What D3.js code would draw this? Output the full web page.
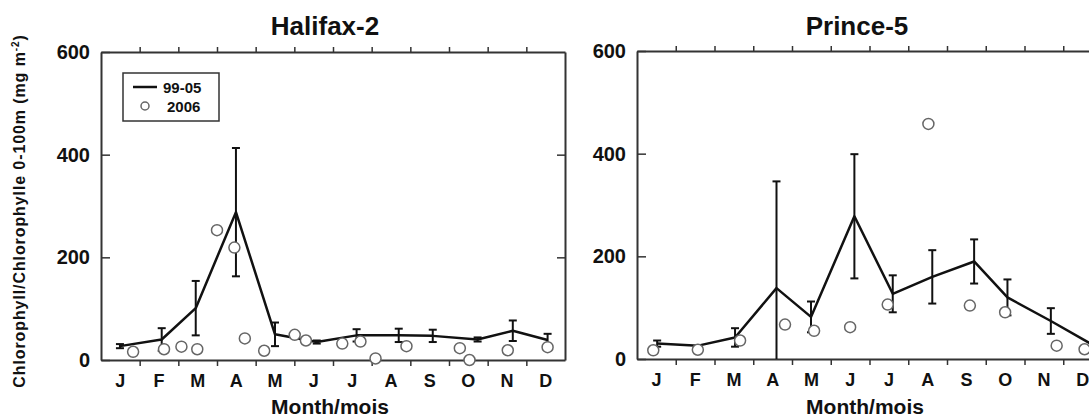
<!DOCTYPE html>
<html>
<head>
<meta charset="utf-8">
<script src="https://cdn.jsdelivr.net/npm/d3@7"></script>
<style>
  body { margin: 0; background: #fff; }
  text { font-family: "Liberation Sans", Arial, sans-serif; font-weight: bold; fill: #111; }
  .domain { stroke: #333; stroke-width: 2; }
  .tick line { stroke: #333; stroke-width: 1.5; }
</style>
</head>
<body>
<svg width="1089" height="419"></svg>
<script>
var months = ["J", "F", "M", "A", "M", "J", "J", "A", "S", "O", "N", "D"];
var yTicks = [0, 200, 400, 600];

// Halifax-2, 1999-2005 monthly mean (x in months from Jan 1) and std error
var hal_x    = [0.49, 1.57, 2.45, 3.49, 4.50, 5.58, 6.61, 7.70, 8.58, 9.74, 10.65, 11.55];
var hal_mean = [27, 40, 101, 288, 50, 35, 48, 48, 47, 40, 57, 39];
var hal_err  = [4, 22, 53, 125, 23, 3, 12, 13, 12, 4, 20, 12];
// Halifax-2, 2006 observations
var hal06_x = [0.83, 1.63, 2.08, 2.49, 3.0, 3.45, 3.72, 4.22, 5.01, 5.3, 6.24, 6.71, 7.1, 7.9, 9.28, 9.53, 10.52, 11.55];
var hal06_v = [16, 21, 26, 21, 253, 219, 42, 18, 49, 38, 32, 36, 3, 27, 23, 0, 19, 25];

// Prince-5
var pr_x    = [0.52, 1.58, 2.53, 3.6, 4.49, 5.61, 6.6, 7.62, 8.7, 9.56, 10.68, 11.7];
var pr_mean = [30, 26, 42, 138, 82, 278, 127, 160, 190, 120, 74, 30];
var pr_err  = [6, 0, 18, 208, 30, 121, 36, 52, 43, 35, 25, 0];
var pr06_x = [0.42, 1.57, 2.66, 3.82, 4.57, 5.5, 6.47, 7.52, 8.59, 9.5, 10.83, 11.55];
var pr06_v = [17, 18, 36, 67, 55, 62, 106, 458, 104, 91, 26, 19];

var svg = d3.select("svg");

function panel(opt) {
    var x = d3.scaleLinear().domain([0, 12]).range([opt.x0, opt.x1]);
    var y = d3.scaleLinear().domain([0, 600]).range([opt.y0, opt.y1]);
    var band = d3.scaleBand().domain(d3.range(12)).range([opt.x0, opt.x1]);
    var g = svg.append("g");

    // month labels under each interval
    g.append("g")
        .attr("transform", "translate(0," + opt.y0 + ")")
        .call(d3.axisBottom(band).tickSize(0).tickPadding(14).tickFormat(function(i) { return months[i]; }))
        .call(function(a) { a.select(".domain").remove(); })
        .selectAll("text").style("font-size", "18px").attr("font-family", null);

    // bottom and top axes with outward month-boundary ticks
    g.append("g")
        .attr("transform", "translate(0," + opt.y0 + ")")
        .call(d3.axisBottom(x).tickValues(d3.range(1, 12)).tickSize(6).tickSizeOuter(0).tickFormat(""));
    g.append("g")
        .attr("transform", "translate(0," + opt.y1 + ")")
        .call(d3.axisTop(x).tickValues(d3.range(1, 12)).tickSize(5).tickSizeOuter(0).tickFormat(""));

    // y axes, inward ticks
    var yl = g.append("g")
        .attr("transform", "translate(" + opt.x0 + ",0)")
        .call(d3.axisLeft(y).tickValues(yTicks).tickSizeInner(-9).tickSizeOuter(0).tickPadding(11));
    yl.selectAll("text").style("font-size", "20px").attr("font-family", null);
    g.append("g")
        .attr("transform", "translate(" + opt.x1 + ",0)")
        .call(d3.axisRight(y).tickValues([200, 400]).tickSizeInner(-8).tickSizeOuter(0).tickFormat(""));

    // error bars
    var eb = g.append("g").attr("stroke", "#111").attr("stroke-width", 2);
    opt.mx.forEach(function(mx, i) {
        var e = opt.err[i];
        if (!e) return;
        var top = y(opt.mean[i] + e), bot = y(Math.max(0, opt.mean[i] - e));
        eb.append("line").attr("x1", x(mx)).attr("x2", x(mx)).attr("y1", top).attr("y2", bot);
        eb.append("line").attr("x1", x(mx) - 4).attr("x2", x(mx) + 4).attr("y1", top).attr("y2", top);
        if (opt.mean[i] - e > 0)
            eb.append("line").attr("x1", x(mx) - 4).attr("x2", x(mx) + 4).attr("y1", bot).attr("y2", bot);
    });

    // mean line
    var line = d3.line()
        .x(function(d) { return x(d[0]); })
        .y(function(d) { return y(d[1]); });
    g.append("path")
        .datum(d3.zip(opt.mx, opt.mean))
        .attr("d", line)
        .attr("fill", "none")
        .attr("stroke", "#111")
        .attr("stroke-width", 2.5)
        .attr("stroke-linejoin", "round");

    // 2006 circles
    g.selectAll(".dot")
        .data(d3.zip(opt.ox, opt.ov))
        .enter()
        .append("circle")
        .attr("class", "dot")
        .attr("cx", function(d) { return x(d[0]); })
        .attr("cy", function(d) { return y(d[1]); })
        .attr("r", 5.5)
        .attr("fill", "#fff")
        .attr("stroke", "#666")
        .attr("stroke-width", 1.5);

    g.append("text")
        .attr("x", opt.titleX).attr("y", 35)
        .attr("text-anchor", "middle")
        .style("font-size", "26px")
        .text(opt.title);
    g.append("text")
        .attr("x", opt.labelX).attr("y", 414)
        .attr("text-anchor", "middle")
        .style("font-size", "21px")
        .text("Month/mois");
}

panel({x0: 101, x1: 565, y0: 360, y1: 52, mx: hal_x, mean: hal_mean, err: hal_err,
       ox: hal06_x, ov: hal06_v, title: "Halifax-2", titleX: 325, labelX: 330});
panel({x0: 637, x1: 1102, y0: 359, y1: 51, mx: pr_x, mean: pr_mean, err: pr_err,
       ox: pr06_x, ov: pr06_v, title: "Prince-5", titleX: 857, labelX: 865});

// legend
var leg = svg.append("g");
leg.append("rect").attr("x", 123).attr("y", 73).attr("width", 96).attr("height", 48)
    .attr("fill", "#fff").attr("stroke", "#333").attr("stroke-width", 1.5);
leg.append("line").attr("x1", 133).attr("x2", 157).attr("y1", 87).attr("y2", 87)
    .attr("stroke", "#111").attr("stroke-width", 2.5);
leg.append("text").attr("x", 163).attr("y", 92.5).style("font-size", "15px").text("99-05");
leg.append("circle").attr("cx", 145).attr("cy", 106).attr("r", 4)
    .attr("fill", "#fff").attr("stroke", "#666").attr("stroke-width", 1.5);
leg.append("text").attr("x", 167).attr("y", 111.5).style("font-size", "15px").text("2006");

// y axis title
var yt = svg.append("text")
    .attr("transform", "translate(25,211) rotate(-90)")
    .attr("text-anchor", "middle")
    .style("font-size", "16px")
    .style("letter-spacing", "0.9px");
yt.append("tspan").text("Chlorophyll/Chlorophylle 0-100m (mg m");
yt.append("tspan").attr("dy", -6).style("font-size", "10px").text("-2");
yt.append("tspan").attr("dy", 6).text(")");
</script>
</body>
</html>
